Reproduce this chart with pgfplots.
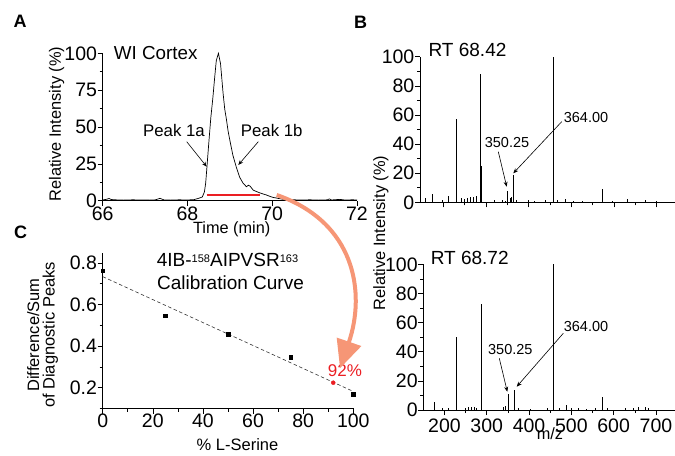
\documentclass[border=0pt]{standalone}
\usepackage{fontspec}
\setmainfont{Liberation Sans}
\usepackage{pgfplots}
\pgfplotsset{compat=1.18}
\usetikzlibrary{arrows.meta}

\definecolor{salmon}{RGB}{246,150,118}
\definecolor{mred}{RGB}{235,30,35}
\newcommand\fs[1]{\fontsize{#1bp}{#1bp}\selectfont}

\pgfplotsset{
  panel/.style={
    scale only axis, axis lines*=left, tick align=outside, clip=false,
    axis line style={line width=0.6bp},
    every tick/.style={black, line width=0.6bp},
    major tick length=5bp, minor tick length=3bp,
    /pgf/number format/assume math mode=true,
    every tick label/.style={font=\fontsize{19.5bp}{20bp}\selectfont, inner sep=0.5bp},
  },
  spec/.style={panel, ycomb, ymin=0, ymax=100,
    xtick={200,300,...,700}, minor x tick num=1,
    ytick={0,20,...,100}, minor y tick num=1},
}

\begin{document}
\begin{tikzpicture}
\path[use as bounding box] (0,0) rectangle (675bp,456bp);

% A: chromatogram
\begin{axis}[panel, at={(102.7bp,255.3bp)}, anchor=south west,
  width=254.3bp, height=147.4bp,
  xmin=66, xmax=72, ymin=0, ymax=100,
  xtick={66,68,70,72}, ytick={0,25,50,75,100}, minor y tick num=1]
\addplot[black, line width=0.7bp] coordinates {
 (66.0,0.5) (66.1,1.0) (66.15,1.5) (66.2,0.8) (66.3,0.6) (66.5,0.4) (66.7,0.6)
 (66.9,0.5) (67.1,0.4) (67.25,0.6) (67.35,1.6) (67.45,0.5) (67.6,0.4) (67.8,0.6)
 (68.0,0.5) (68.15,0.7) (68.25,1.5) (68.3,2.0) (68.35,2.5) (68.4,6) (68.43,12)
 (68.46,23) (68.5,38) (68.55,56) (68.6,70) (68.64,83) (68.68,95) (68.73,100)
 (68.78,93) (68.84,73) (68.88,62) (68.92,55) (68.96,47) (69.0,41) (69.07,31)
 (69.15,23) (69.23,16) (69.31,12) (69.39,9.5) (69.44,10.5) (69.48,9.8)
 (69.55,7.2) (69.62,6.3) (69.7,5.4) (69.78,4.6) (69.86,3.9) (69.94,3.0)
 (70.01,2.3) (70.1,1.8) (70.17,1.4) (70.25,1.0) (70.35,0.8) (70.5,0.6)
 (70.7,0.5) (70.9,0.6) (71.1,0.4) (71.3,0.6) (71.35,1.2) (71.4,0.5) (71.6,0.9)
 (71.7,0.5) (71.9,0.6) (72.0,0.5)};
\addplot[mred, line width=2.6bp] coordinates {(68.45,4) (69.7,4)};
\end{axis}

% B top: RT 68.42
\begin{axis}[spec, at={(420bp,253.7bp)}, anchor=south west,
  width=255bp, height=145.6bp, xmin=145, xmax=743, xticklabels={}]
\addplot[black, line width=0.6bp] coordinates {
 (158,3.2) (174,5.5) (198,1.6) (212,4.3) (229,57) (241,3.2) (250,2.3) (257,2.7)
 (263,3.4) (270,3.7) (276,4.6) (286,88) (287,38) (288,25) (320,1.4) (337,1.8)
 (344,1.2) (350.25,7.8) (357,2.7) (360,3.7) (364,19) (371,1.8) (398,1.4)
 (414,1.1) (438,1.6) (457,100) (458,76) (468,1.4) (485,2.5) (505,1.1)
 (525,0.9) (572,9.2) (595,0.9) (632,2) (674,1.8) (698,0.9)};
\end{axis}

% B bottom: RT 68.72
\begin{axis}[spec, at={(423.3bp,46bp)}, anchor=south west,
  width=251.7bp, height=145.7bp, xmin=150, xmax=745,
  xticklabel style={yshift=-3bp}]
\addplot[black, line width=0.6bp] coordinates {
 (176,5.3) (194,1.1) (209,1.4) (229,50) (249,1.1) (257,1.8) (263,1.8) (271,1.8)
 (276,1.6) (286,73) (287,46) (288,31) (338,2.3) (343,3) (350.25,11) (364,14)
 (375,1.1) (402,0.9) (442,1.4) (457,100) (458,84) (471,1.4) (487,3.2)
 (501,1.4) (516,1.1) (536,0.9) (556,1.4) (572,8.7) (584,1.1) (627,1.1)
 (647,1.4) (658,1.8) (674,2.3) (682,1.1)};
\end{axis}

% C: calibration curve
\begin{axis}[panel, at={(102.7bp,47.5bp)}, anchor=south west,
  width=250.6bp, height=156bp,
  xmin=0, xmax=100, ymin=0.1, ymax=0.85,
  xtick={0,20,...,100}, minor x tick num=1,
  ytick={0.2,0.4,0.6,0.8}, minor ytick={0.1,0.3,0.5,0.7},
  yticklabels={0.2,0.4,0.6,0.8}]
\addplot[black!80, line width=0.6bp, dash pattern=on 3.5bp off 2.5bp] coordinates {(0,0.734) (100,0.182)};
\addplot[only marks, mark=square*, mark size=1.7bp, black] coordinates {
 (0,0.763) (25,0.546) (50,0.457) (75,0.346) (100,0.168)};
\addplot[only marks, mark=*, mark size=2bp, mred] coordinates {(92,0.224)};
\end{axis}

\begin{scope}[x=1bp, y=-1bp, yshift=456bp]
% panel letters
\node[font=\bfseries\fs{18}, anchor=base] at (20,27.3) {A};
\node[font=\bfseries\fs{18}, anchor=base] at (360.5,28.3) {B};
\node[font=\bfseries\fs{18}, anchor=base] at (20.5,238.3) {C};

% A texts
\node[font=\fs{18.8}, anchor=base] at (155.7,59.3) {WI Cortex};
\node[font=\fs{16.8}, anchor=base] at (174,136.7) {Peak 1a};
\node[font=\fs{16.8}, anchor=base] at (271.7,136.7) {Peak 1b};
\draw[line width=0.6bp, -{Stealth[length=5bp,width=4bp]}] (186.7,141.7) -- (206.7,166.7);
\draw[line width=0.6bp, -{Stealth[length=5bp,width=4bp]}] (258.3,141.7) -- (238.3,165);
\node[font=\fs{16.3}, anchor=base] at (231.7,233.5) {Time (min)};
\node[font=\fs{16.4}, rotate=90] at (56.7,124) {Relative Intensity (\%)};

% B texts
\node[font=\fs{19}, anchor=base] at (467.5,56.7) {RT 68.42};
\node[font=\fs{19}, anchor=base] at (469.7,264.3) {RT 68.72};
\node[font=\fs{14.5}, anchor=base] at (507,147.7) {350.25};
\node[font=\fs{14.5}, anchor=base] at (586,122.7) {364.00};
\node[font=\fs{14.5}, anchor=base] at (510.3,355) {350.25};
\node[font=\fs{14.5}, anchor=base] at (586,331.7) {364.00};
\draw[line width=0.6bp, -{Stealth[length=5bp,width=4bp]}] (498.3,151.7) -- (506.7,186.7);
\draw[line width=0.6bp, -{Stealth[length=5bp,width=4bp]}] (561.7,121.7) -- (513.3,173.3);
\draw[line width=0.6bp, -{Stealth[length=5bp,width=4bp]}] (499.3,358.3) -- (507.3,391.7);
\draw[line width=0.6bp, -{Stealth[length=5bp,width=4bp]}] (563.3,333.3) -- (516.7,386.7);
\node[font=\fs{16.3}, anchor=base] at (550,440) {m/z};
\node[font=\fs{16.4}, rotate=90] at (381,233) {Relative Intensity (\%)};

% C texts
\node[font=\fs{19}, anchor=base] at (227.5,266.7) {4IB-{\fs{11}\raisebox{0.75ex}{158}}AIPVSR{\fs{11}\raisebox{0.75ex}{163}}};
\node[font=\fs{19}, anchor=base] at (230.5,289.3) {Calibration Curve};
\node[font=\fs{16.5}, anchor=base] at (237.5,451) {\% L-Serine};
\node[font=\fontsize{16.5bp}{15.5bp}\selectfont, rotate=90, align=center] at (42.5,335) {Difference/Sum\\of Diagnostic Peaks};
\node[font=\fs{17}, anchor=base, text=mred] at (345,376.7) {92\%};

% orange arrow
\draw[salmon, line width=4bp, -{Triangle[length=28bp,width=25bp]}]
  (276.7,195) .. controls (355,222) and (366,292.2) .. (340,368.3);
\end{scope}
\end{tikzpicture}
\end{document}
